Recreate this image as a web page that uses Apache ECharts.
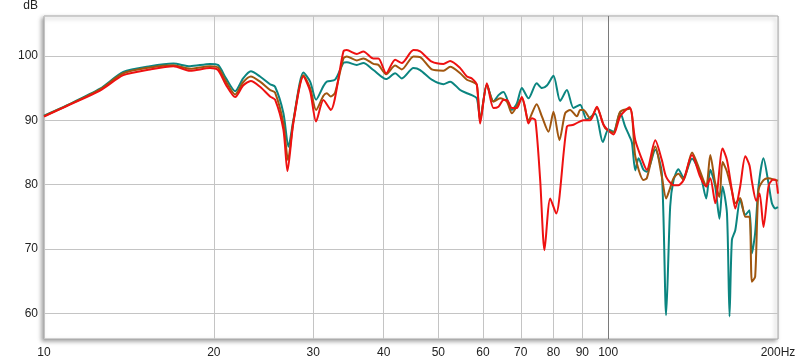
<!DOCTYPE html>
<html><head><meta charset="utf-8">
<script src="https://cdn.jsdelivr.net/npm/echarts@6/dist/echarts.min.js"></script>
<style>html,body{margin:0;padding:0;background:#fff}#c{width:800px;height:362px}</style>
</head><body><div id="c"></div>
<script>
const xTickValues = [10,20,30,40,50,60,70,80,90,100,200];
const yTickValues = [60,70,80,90,100];

const tealHz = [10,10.97,12.57,13.82,15.42,16.96,18.15,19.69,20.34,21.02,21.82,22.54,23.26,24.15,25.16,25.68,26.57,27.12,27.67,28.83,29.63,30.36,31.28,31.71,32.81,33.94,34.41,35.85,36.83,38.36,40.41,41.92,43.08,45.17,46.42,48.68,51.05,52.47,54.66,56.18,57.33,58.51,59.3,60.95,62.62,63.91,65.23,67.51,68.89,70.31,72.23,74.69,76.29,77.87,79.99,82.21,84.49,86.8,89.2,91.67,94.84,97.86,100.1,102.2,105.0,107.2,109.1,110.2,111.7,113.2,115.5,117.1,121.2,124.5,126.7,128.8,130.6,133.2,136.0,140.8,145.6,149.2,151.7,154.8,157.5,159.5,162.4,164.1,165.7,168.0,171.4,175.0,178.0,179.8,182.2,184.7,188.5,192.4,195.1,197.8,200];
const tealDb = [90.7,92.3,94.9,97.5,98.4,98.8,98.4,98.75,98.6,96.5,94.5,96.5,97.6,96.8,95.6,95.2,91.1,85.9,90.0,97.4,96.0,93.2,95.3,96.0,96.3,98.9,99.0,98.6,98.9,97.8,96.4,97.3,96.5,98.1,97.8,96.3,95.6,96.0,94.7,94.2,93.9,93.4,90.3,95.5,92.9,93.9,94.4,91.6,92.6,95.0,93.4,95.75,95.0,95.4,96.9,93.0,94.7,91.9,92.4,90.1,91.0,86.6,88.6,88.2,91.2,89.0,87.5,86.5,82.2,84.1,82.3,82.0,85.4,81.7,59.7,76.6,80.7,82.4,81.1,84.0,81.7,77.85,82.3,79.7,74.7,79.7,75.5,59.5,71.4,72.9,77.6,75.3,76.0,69.3,72.5,79.7,84.1,80.2,77.1,76.3,76.5];

const brownHz = [10,10.97,12.57,13.82,15.42,16.96,18.15,19.69,20.34,21.02,21.82,22.54,23.26,24.15,25.16,25.68,26.57,27.07,27.67,28.83,29.63,30.36,31.28,31.71,32.23,32.81,33.94,34.41,35.85,36.83,38.36,39.15,40.41,41.92,43.08,45.17,46.42,48.68,51.05,52.47,54.66,56.18,57.33,58.51,59.3,60.95,62.62,64.35,66.14,67.51,70.31,72.23,74.69,76.29,78.37,79.99,81.97,83.91,85.63,88.01,89.2,90.41,92.92,95.5,98.79,102.2,105.0,109.4,111.7,115.5,117.1,121.2,124.5,126.7,128.8,130.6,133.2,136.0,140.8,145.6,149.2,151.7,154.8,157.5,159.5,162.4,165.7,168.0,171.4,175.0,178.0,179.8,182.2,184.7,188.5,192.4,197.8,200];
const brownDb = [90.65,92.25,94.8,97.3,98.2,98.55,98.0,98.4,98.2,96.0,94.0,95.9,96.8,96.0,94.7,94.3,89.5,83.8,89.8,97.0,95.0,91.6,93.8,94.2,93.7,94.3,99.6,99.9,99.3,99.6,98.75,98.6,97.15,98.5,97.9,99.9,99.8,97.9,97.7,98.3,97.3,96.3,96.0,95.5,89.9,95.5,92.9,93.4,92.9,91.1,93.4,90.0,92.5,90.6,88.2,91.3,86.9,91.1,91.6,90.6,91.6,91.6,90.3,91.9,88.75,88.1,91.3,91.8,84.4,80.7,81.0,85.9,81.2,77.85,79.5,81.0,81.7,80.7,85.0,82.0,79.7,84.6,80.2,78.1,83.5,82.0,79.0,77.1,77.9,75.0,75.0,64.9,65.7,79.1,80.7,81.0,80.7,80.6];

const redHz = [10,10.97,12.57,13.82,15.42,16.96,18.15,19.69,20.34,21.02,21.82,22.54,23.26,24.15,25.16,25.68,26.57,27.01,27.67,28.83,29.63,30.36,31.28,32.23,33.94,34.41,35.85,36.83,38.36,39.15,40.41,41.92,43.08,45.17,46.42,48.68,51.05,52.47,54.66,56.18,57.33,58.51,59.3,60.95,62.62,63.91,65.23,66.14,67.51,68.89,70.31,71.2,72.23,73.24,74.3,75.77,77.12,78.93,80.88,84.49,86.8,90.41,92.92,95.5,98.11,102.2,105.0,109.1,111.7,115.5,117.1,121.2,124.5,126.7,130.6,133.2,136.0,140.8,145.6,149.2,151.7,154.8,159.5,162.4,165.7,168.0,171.4,175.0,178.0,179.8,183.0,185.5,188.5,192.4,195.1,197.8,200];
const redDb = [90.55,92.2,94.6,97.0,97.9,98.4,97.7,98.1,97.8,95.5,93.6,95.4,96.1,95.2,93.7,93.2,88.5,82.1,89.6,96.8,94.5,89.8,93.15,91.6,100.7,100.9,100.3,100.7,99.6,99.6,97.3,99.4,98.9,100.9,100.7,99.1,98.75,99.2,98.1,96.8,96.5,95.5,89.5,95.75,91.9,92.1,93.15,93.15,91.9,91.9,93.6,92.1,89.5,90.3,90.0,80.7,69.8,77.85,75.5,89.0,89.3,90.0,90.0,92.1,89.3,87.8,90.6,92.0,86.9,83.3,82.3,86.9,83.8,81.2,79.9,79.9,80.7,84.6,81.2,79.7,81.0,77.1,85.6,83.8,79.1,76.3,79.7,84.4,83.0,80.5,77.5,78.6,73.4,79.7,80.7,80.8,78.6];

const pairs = (hz, db) => hz.map((h, i) => [h, db[i]]);
const font = 'Liberation Sans, Arial, sans-serif';

const chart = echarts.init(document.getElementById('c'), null, {renderer: 'canvas'});
chart.setOption({
  animation: false,
  backgroundColor: '#fff',
  grid: {
    left: 44, right: 22, top: 16, bottom: 23,
    show: true, backgroundColor: '#fff', borderColor: '#a8a8a8', borderWidth: 1,
    shadowColor: 'rgba(0,0,0,0.35)', shadowBlur: 4, shadowOffsetX: -2, shadowOffsetY: 2
  },
  xAxis: {
    type: 'log', logBase: 10, min: 10, max: 200,
    axisLine: {show: false},
    axisTick: {show: false, customValues: xTickValues},
    axisLabel: {customValues: xTickValues, margin: 8, color: '#222', fontSize: 12, fontFamily: font,
      formatter: v => (Math.round(v) === 200 ? '200Hz' : String(Math.round(v)))},
    splitLine: {show: true, lineStyle: {color: '#c4c4c4', width: 1}},
    minorTick: {show: false}, minorSplitLine: {show: false}
  },
  yAxis: {
    type: 'value', min: 56, max: 106.2,
    name: 'dB', nameLocation: 'end', nameGap: 4,
    nameTextStyle: {color: '#222', fontSize: 12, fontFamily: font, align: 'right', padding: [0, 6, 0, 0]},
    axisLine: {show: false},
    axisTick: {show: false, customValues: yTickValues},
    axisLabel: {customValues: yTickValues, margin: 6, color: '#222', fontSize: 12, fontFamily: font},
    splitLine: {show: true, lineStyle: {color: '#c4c4c4', width: 1}}
  },
  series: [
    {name: 'teal', type: 'line', data: pairs(tealHz, tealDb), showSymbol: false, smooth: 0.25,
     lineStyle: {color: '#0b8580', width: 2}, itemStyle: {color: '#0b8580'},
     markLine: {silent: true, symbol: 'none', label: {show: false},
       lineStyle: {color: '#7a7a7a', width: 1, type: 'solid'}, data: [{xAxis: 100}]}},
    {name: 'brown', type: 'line', data: pairs(brownHz, brownDb), showSymbol: false, smooth: 0.25,
     lineStyle: {color: '#a0560f', width: 2}, itemStyle: {color: '#a0560f'}},
    {name: 'red', type: 'line', data: pairs(redHz, redDb), showSymbol: false, smooth: 0.25,
     lineStyle: {color: '#ee1111', width: 2}, itemStyle: {color: '#ee1111'}}
  ]
});
</script></body></html>
